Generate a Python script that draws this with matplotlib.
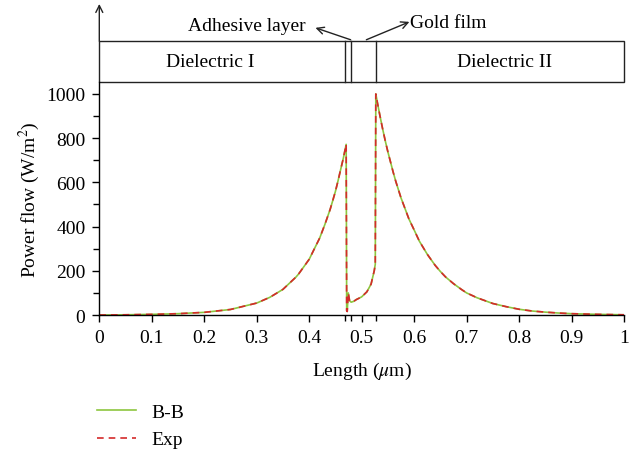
import numpy as np
import matplotlib
matplotlib.use("Agg")
import matplotlib.pyplot as plt
from matplotlib.patches import Rectangle

plt.rcParams['font.family'] = ['Liberation Serif', 'DejaVu Serif']
plt.rcParams['mathtext.fontset'] = 'stix'

# power flow (length in um, W/m^2)
length = [0.0, 0.05, 0.1, 0.15, 0.2, 0.25, 0.3, 0.325, 0.35, 0.375, 0.38, 0.39, 0.4,
          0.41, 0.42, 0.43, 0.44, 0.445, 0.45, 0.455, 0.46, 0.465, 0.4705,
          0.4715, 0.4725, 0.4745, 0.477, 0.48, 0.485, 0.49, 0.5, 0.51, 0.518, 0.524, 0.526,
          0.527, 0.53, 0.535, 0.54, 0.545, 0.55, 0.56, 0.565, 0.575, 0.59, 0.6, 0.61,
          0.625, 0.64, 0.65, 0.66, 0.675, 0.69, 0.7, 0.72, 0.75, 0.775, 0.8,
          0.825, 0.85, 0.875, 0.9, 0.95, 1.0]
bb = [0, 1, 3, 6, 12, 25, 54, 80, 116, 172, 186, 219, 252,
      300, 348, 410, 478, 518, 559, 607, 658, 708, 772,
      20, 16, 100, 65, 58, 62, 70, 82, 105, 140, 200, 230,
      1000, 961, 900, 842, 788, 738, 647, 605, 530, 435, 385, 334,
      275, 225, 197, 172, 142, 116, 100, 78, 52, 38, 26,
      18, 13, 9, 6, 3, 1]
exp = list(bb)

layer_edges = [0.468, 0.48, 0.528]
fs = 14

fig = plt.figure(figsize=(6.39, 4.56), dpi=100)
ax = fig.add_axes([0.1554, 0.307, 0.8211, 0.511])

ax.plot(length, bb, color='#8dc63f', lw=1.2, label='B-B')
ax.plot(length, exp, color='#d42a2a', lw=1.2, ls=(0, (4, 3)), label='Exp')

ax.set_xlim(0, 1)
ax.set_ylim(0, 1054)
ax.set_xticks(np.arange(0, 1.01, 0.1))
ax.set_xticklabels(['0', '0.1', '0.2', '0.3', '0.4', '0.5', '0.6', '0.7', '0.8', '0.9', '1'])
ax.set_xticks(layer_edges, minor=True)
ax.set_yticks(range(0, 1001, 200))
ax.set_yticks(range(100, 1000, 200), minor=True)
ax.spines['top'].set_visible(False)
ax.spines['right'].set_visible(False)
for s in ['left', 'bottom']:
    ax.spines[s].set_linewidth(1.0)
ax.tick_params(which='major', direction='out', length=5, width=1, labelsize=fs, pad=5)
ax.tick_params(which='minor', direction='out', length=4, width=1)
ax.set_xlabel('Length ($\\mu$m)', fontsize=fs, labelpad=10)
ax.set_ylabel('Power flow (W/m$^2$)', fontsize=fs, labelpad=3)

# layer sketch above the plot
ytop = 1054 + 184
ax.add_patch(Rectangle((0, 1054), 1, 184, fill=False, ec='#222222', lw=1.0, clip_on=False))
for xe in layer_edges:
    ax.plot([xe, xe], [1054, ytop], color='#222222', lw=1.0, clip_on=False)
ax.text(0.211, 1146, 'Dielectric I', fontsize=fs, ha='center', va='center')
ax.text(0.773, 1146, 'Dielectric II', fontsize=fs, ha='center', va='center')
ax.annotate('', xy=(0.412, 1299), xytext=(0.479, 1245), annotation_clip=False,
            arrowprops=dict(arrowstyle='->,head_length=0.5,head_width=0.25',
                            color='#222222', lw=1.0, shrinkA=0, shrinkB=0))
ax.text(0.394, 1310, 'Adhesive layer', fontsize=fs, ha='right', va='center')
ax.annotate('', xy=(0.591, 1326), xytext=(0.509, 1245), annotation_clip=False,
            arrowprops=dict(arrowstyle='->,head_length=0.5,head_width=0.25',
                            color='#222222', lw=1.0, shrinkA=0, shrinkB=0))
ax.text(0.593, 1322, 'Gold film', fontsize=fs, ha='left', va='center')
# y axis arrow
ax.annotate('', xy=(0, 1407), xytext=(0, ytop), annotation_clip=False,
            arrowprops=dict(arrowstyle='->,head_length=0.5,head_width=0.25',
                            color='#222222', lw=1.0, shrinkA=0, shrinkB=0))

fig.legend(loc='upper left', bbox_to_anchor=(0.14, 0.13), frameon=False,
           fontsize=fs, handlelength=2.0, labelspacing=0.5, borderaxespad=0)

fig.savefig('out.png', dpi=100)
